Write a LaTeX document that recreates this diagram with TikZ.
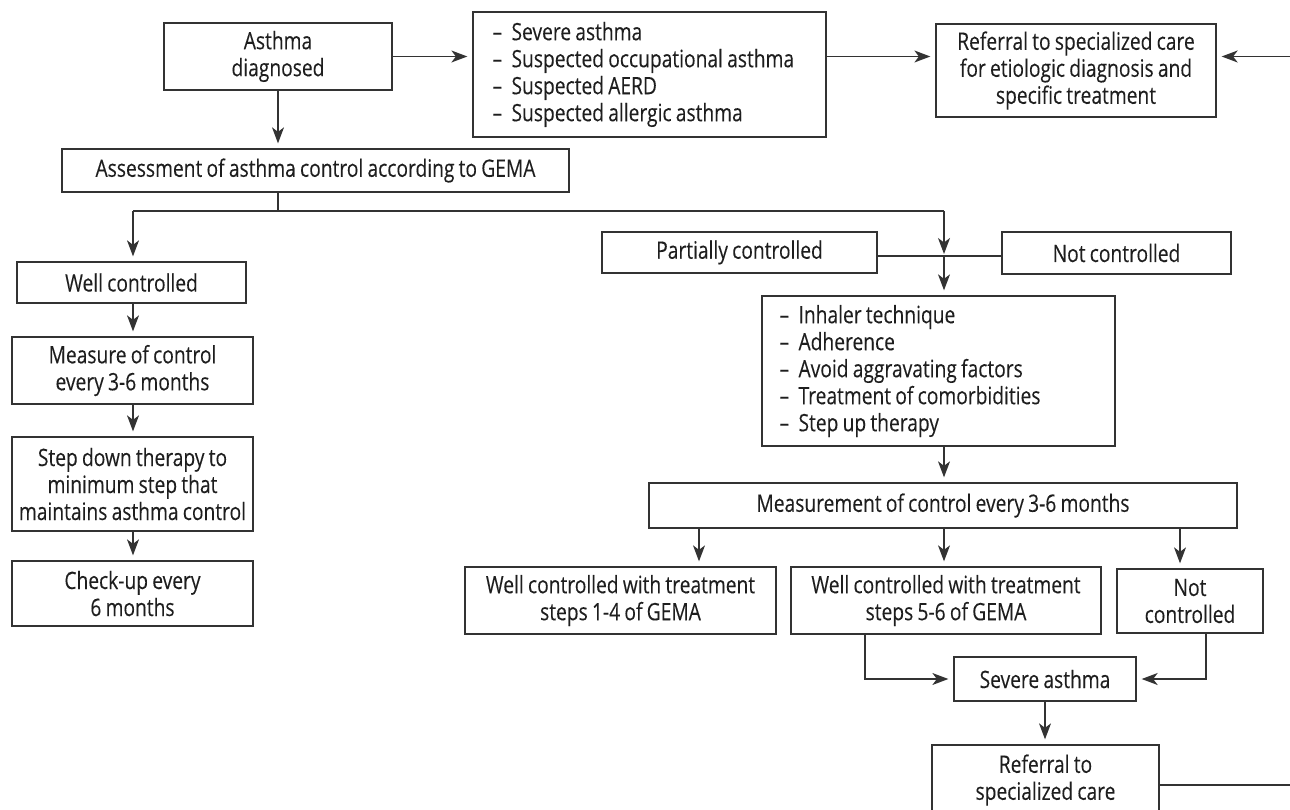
\documentclass[tikz,border=0pt]{standalone}
\usepackage{fontspec}
\setmainfont{Open Sans}[FakeStretch=0.8, WordSpace=0.85, FakeBold=0.15]
\usetikzlibrary{arrows.meta}
\definecolor{lncol}{HTML}{333333}
\definecolor{txcol}{HTML}{1E1E1E}
\newcommand{\dashA}{\makebox[19pt][l]{–}}
\begin{document}
\begin{tikzpicture}[x=1pt,y=-1pt,
  box/.style={draw=lncol, line width=1.3pt, inner sep=0pt, align=center, text=txcol,
              font=\fontsize{24}{27}\selectfont},
  listtext/.style={inner sep=0pt, align=left, anchor=west, text=txcol,
              font=\fontsize{24}{27}\selectfont},
  wire/.style={draw=lncol, line width=1.3pt},
  arr/.style={wire, -{Stealth[length=16pt,width=12pt,inset=4.5pt]}, shorten >=5pt}]
\useasboundingbox (0,0) rectangle (1290,810);

% nodes
\node[box, minimum width=228, minimum height=67] (diag) at (278,56.5) {Asthma\\diagnosed};
\node[box, minimum width=353, minimum height=125] (list) at (649.5,74.5) {};
\node[listtext] (listtxt) at ([xshift=20pt]list.west)
  {\dashA Severe asthma\\\dashA Suspected occupational asthma\\\dashA Suspected AERD\\\dashA Suspected allergic asthma};
\node[box, minimum width=280, minimum height=93] (ref1) at (1076,70.5)
  {Referral to specialized care\\for etiologic diagnosis and\\specific treatment};
\node[box, minimum width=507, minimum height=43] (assess) at (315.5,170.5)
  {Assessment of asthma control according to GEMA};
\node[box, minimum width=275, minimum height=41] (partial) at (739.5,252.5) {Partially controlled};
\node[box, minimum width=229, minimum height=42] (nc) at (1116.5,253) {Not controlled};
\node[box, minimum width=229, minimum height=41] (well) at (131.5,282.5) {Well controlled};
\node[box, minimum width=241, minimum height=67] (meas) at (132.5,370.5) {Measure of control\\every 3-6 months};
\node[box, minimum width=241, minimum height=94] (stepd) at (132.5,484)
  {Step down therapy to\\minimum step that\\maintains asthma control};
\node[box, minimum width=241, minimum height=65] (checkup) at (132.5,593.5) {Check-up every\\6 months};
\node[box, minimum width=353, minimum height=150] (inhal) at (938.5,371) {};
\node[listtext] (inhaltxt) at ([xshift=18pt]inhal.west)
  {\dashA Inhaler technique\\\dashA Adherence\\\dashA Avoid aggravating factors\\\dashA Treatment of comorbidities\\\dashA Step up therapy};
\node[box, minimum width=588, minimum height=45] (meas2) at (943,505.5)
  {Measurement of control every 3-6 months};
\node[box, minimum width=311, minimum height=67] (wc14) at (620.5,600.5)
  {Well controlled with treatment\\steps 1-4 of GEMA};
\node[box, minimum width=310, minimum height=67] (wc56) at (946,600.5)
  {Well controlled with treatment\\steps 5-6 of GEMA};
\node[box, minimum width=146, minimum height=64] (nc2) at (1190,601) {Not\\controlled};
\node[box, minimum width=182, minimum height=44] (severe) at (1045,679) {Severe asthma};
\node[box, minimum width=227, minimum height=70] (ref2) at (1045.5,780) {Referral to\\specialized care};

% helper coordinates
\coordinate (rin) at (1290,56.5);
\coordinate (rout) at (1290,785);
\coordinate (j1) at (278,211);
\coordinate (jl) at (133,211);
\coordinate (jr) at (944,211);
\coordinate (j2) at (944,256);
\coordinate (c1) at (699,0);
\coordinate (c2) at (944,0);
\coordinate (c3) at (1180,0);
\coordinate (c4) at (865,679);
\coordinate (c5) at (1206,679);

% connectors
\draw[arr] (diag.east) -- (diag.east -| list.west);
\draw[arr] (diag.east -| list.east) -- (diag.east -| ref1.west);
\draw[arr] (rin) -- (rin -| ref1.east);
\draw[wire] (rout -| ref2.east) -- (rout);
\draw[arr] (diag.south) -- (diag.south |- assess.north);
\draw[wire] (assess.south -| j1) -- (j1);
\draw[wire] (jl) -- (jr);
\draw[arr] (jl) -- (jl |- well.north);
\draw[arr, shorten >=2pt] (jr) -- (j2);
\draw[wire] (j2 -| partial.east) -- (j2 -| nc.west);
\draw[arr] (j2) -- (j2 |- inhal.north);
\draw[arr] (well.south -| jl) -- (jl |- meas.north);
\draw[arr] (meas.south -| jl) -- (jl |- stepd.north);
\draw[arr] (stepd.south -| jl) -- (jl |- checkup.north);
\draw[arr] (inhal.south -| c2) -- (c2 |- meas2.north);
\draw[arr] (meas2.south -| c1) -- (c1 |- wc14.north);
\draw[arr] (meas2.south -| c2) -- (c2 |- wc56.north);
\draw[arr] (meas2.south -| c3) -- (c3 |- nc2.north);
\draw[arr] (wc56.south -| c4) -- (c4) -- (severe.west);
\draw[arr] (nc2.south -| c5) -- (c5) -- (severe.east);
\draw[arr] (severe.south) -- (severe.south |- ref2.north);
\end{tikzpicture}
\end{document}
